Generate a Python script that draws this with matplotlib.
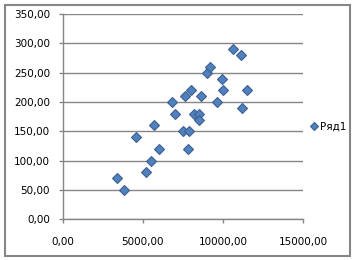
import matplotlib
matplotlib.use('Agg')
import matplotlib.pyplot as plt

# scatter data
x = [3400, 3800, 4600, 5200, 5500, 5700, 6000, 6800, 7000, 7500,
     7600, 7800, 7900, 8000, 8200, 8500, 8500, 8600, 9000, 9200,
     9600, 9900, 10000, 10600, 11100, 11200, 11500]
y = [70, 50, 140, 80, 100, 160, 120, 200, 180, 150,
     210, 120, 150, 220, 180, 180, 170, 210, 250, 260,
     200, 240, 220, 290, 280, 190, 220]
series_name = 'Ряд1'
xticks = [0, 5000, 10000, 15000]
yticks = [0, 50, 100, 150, 200, 250, 300, 350]

grey = '#868686'
plt.rcParams['font.family'] = ['DejaVu Sans']

fig = plt.figure(figsize=(3.54, 2.60), dpi=100)
ax = fig.add_axes([0.177, 0.1565, 0.680, 0.7895])

ax.plot(x, y, linestyle='none', marker='D', markersize=5.2,
        markerfacecolor='#4F81BD', markeredgecolor='#3F5F94',
        markeredgewidth=0.8, label=series_name, zorder=3)

ax.set_xlim(0, 15000)
ax.set_ylim(0, 350)
ax.set_xticks(xticks)
ax.set_yticks(yticks)
ax.set_xticklabels(['%.2f' % v for v in xticks])
ax.set_yticklabels(['%.2f' % v for v in yticks])
ax.set_xticklabels([t.get_text().replace('.', ',') for t in ax.get_xticklabels()])
ax.set_yticklabels([t.get_text().replace('.', ',') for t in ax.get_yticklabels()])

ax.yaxis.grid(True, color=grey, linewidth=1.0)
ax.set_axisbelow(True)
for s in ['top', 'right']:
    ax.spines[s].set_visible(False)
for s in ['left', 'bottom']:
    ax.spines[s].set_color(grey)
    ax.spines[s].set_linewidth(1.0)
ax.tick_params(axis='both', colors=grey, labelcolor='black', labelsize=7.5,
               length=3, width=1)
ax.tick_params(axis='x', pad=10)
ax.tick_params(axis='y', pad=6)

ax.legend(loc='center left', bbox_to_anchor=(1.0, 0.45), frameon=False,
          handlelength=0.6, handletextpad=0.3, markerscale=0.7,
          fontsize=7.5, borderaxespad=0.3)

# outer chart frame
fig.patches.append(plt.Rectangle((5 / 354, 4 / 260), 345 / 354, 251 / 260,
                                 transform=fig.transFigure, fill=False,
                                 edgecolor=grey, linewidth=1.5))

fig.savefig('out.png', dpi=100)
